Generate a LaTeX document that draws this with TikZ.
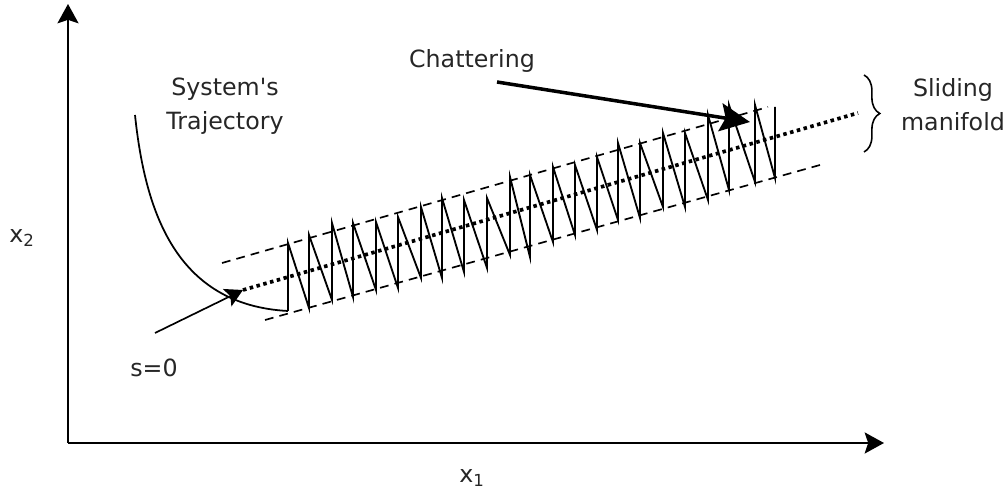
\documentclass[tikz,border=0pt]{standalone}
\usepackage{fontspec}
\setmainfont{DejaVu Sans}
\usetikzlibrary{arrows.meta,decorations.pathreplacing}

\begin{document}
\begin{tikzpicture}[x=0.02cm,y=-0.02cm,>=Stealth,
  lbl/.style={align=center,text=black!85,font=\fontsize{13.5}{19.5}\selectfont},
  axis/.style={line width=1.2pt,-{Stealth[length=11pt,width=12pt,inset=2pt]}},
  bound/.style={line width=0.95pt,dash pattern=on 5pt off 3.5pt},
  manif/.style={line width=2.1pt,dash pattern=on 2pt off 2pt},
  saw/.style={line width=1.05pt,line join=miter},
  pointer/.style={line width=0.95pt,-{Stealth[length=10pt,width=11pt,inset=2pt]}},
  bigpointer/.style={line width=2pt,-{Stealth[length=17pt,width=16pt,inset=3pt]}}]
  \useasboundingbox (0,0) rectangle (1005,499);

  % axes
  \coordinate (origin) at (68,443);
  \coordinate (ytip) at (68,4);
  \coordinate (xtip) at (884,443);
  \draw[axis] (origin) -- (ytip);
  \draw[axis] (origin) -- (xtip);
  \node[lbl] (xtwo) at (22,238) {x\textsubscript{2}};
  \node[lbl] (xone) at (472,478) {x\textsubscript{1}};

  % boundary layer and sliding surface
  \coordinate (upA) at (222,263);
  \coordinate (upB) at (768,107);
  \coordinate (loA) at (265,320);
  \coordinate (loB) at (820,165);
  \coordinate (s0tip) at (243,290);
  \coordinate (mfend) at (858,113);
  \draw[bound] (upA) -- (upB);
  \draw[bound] (loA) -- (loB);
  \draw[manif] (s0tip) -- (mfend);

  % trajectory reaching the surface, then chattering
  \coordinate (trajstart) at (135,115);
  \coordinate (trajend) at (288,311);
  \draw[line width=1pt] (trajstart) .. controls (145,210) and (175,305) .. (trajend);
  \draw[saw] (trajend) \foreach \x/\t/\b in {288/243/311,309/235/308,332/223/300,
      353/223/297,376/222/290,398/217/288,421/207/278,442/198/278,464/200/272,
      487/198/268,510/177/255,530/175/257,553/167/242,575/165/235,597/157/230,
      618/143/220,640/143/218,663/133/207,685/133/207,708/115/200,729/105/190,
      755/105/182,775/107/178}{ -- (\x,\b) -- (\x,\t)};

  \node[lbl] (traj) at (225,106) {System\textquotesingle s\\Trajectory};
  \node[lbl] (szero) at (154,368) {s=0};
  \coordinate (s0tail) at (155,333);
  \draw[pointer] (s0tail) -- (s0tip);

  \node[lbl] (chat) at (472,61) {Chattering};
  \coordinate (chtail) at (497,82);
  \coordinate (chtip) at (750,122);
  \draw[bigpointer] (chtail) -- (chtip);

  \coordinate (bracetop) at (864,75);
  \coordinate (bracebot) at (864,152);
  \draw[line width=0.9pt,decorate,decoration={brace,amplitude=9pt}] (bracetop) -- (bracebot);
  \node[lbl] (slide) at (953,105) {Sliding\\manifold};
\end{tikzpicture}
\end{document}
